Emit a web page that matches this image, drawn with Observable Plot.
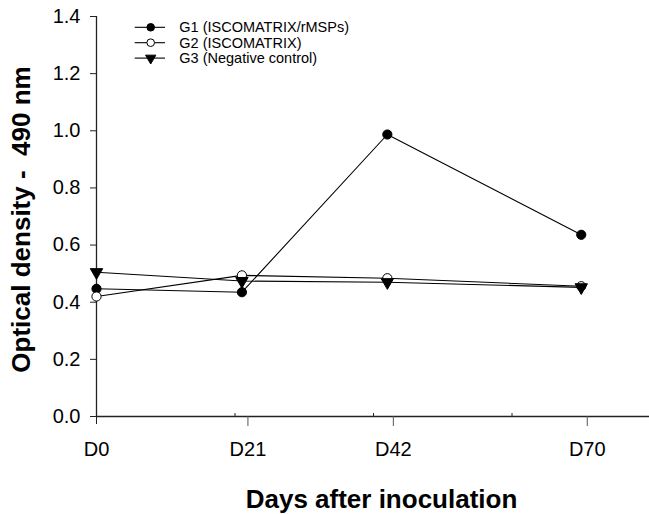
<!DOCTYPE html>
<html>
<head>
<meta charset="utf-8">
<script src="https://cdn.jsdelivr.net/npm/d3@7"></script>
<script src="https://cdn.jsdelivr.net/npm/@observablehq/plot@0.6"></script>
<style>
  body { margin: 0; background: #fff; font-family: Arial, "Liberation Sans", sans-serif; }
  #wrap { position: relative; width: 649px; height: 514px; }
  #legend { position: absolute; left: 130px; top: 12px; }
</style>
</head>
<body>
<div id="wrap"><div id="chart"></div><div id="legend"></div></div>
<script>
// ---- data ----
const days = [0, 21, 42, 70];
const dayLabels = ["D0", "D21", "D42", "D70"];
const minorDays = [20, 40, 60];
const yTicks = [0, 0.2, 0.4, 0.6, 0.8, 1.0, 1.2, 1.4];
const seriesNames = ["G1 (ISCOMATRIX/rMSPs)", "G2 (ISCOMATRIX)", "G3 (Negative control)"];
const g1 = [0.447, 0.435, 0.987, 0.636];
const g2 = [0.420, 0.494, 0.484, 0.456];
const g3 = [0.505, 0.474, 0.470, 0.452];
const xTitle = "Days after inoculation";
const yTitle = "Optical density -\u00a0 490 nm";

// ---- styles per series ----
const seriesStyle = [
  {symbol: "circle", fill: "black", rotate: 0},
  {symbol: "circle", fill: "white", rotate: 0},
  {symbol: "triangle", fill: "black", rotate: 180}
];
const seriesValues = [g1, g2, g3];
const rows = seriesValues.map((vals, i) => vals.map((v, j) => ({series: seriesNames[i], day: days[j], od: v})));

const axisColor = "#222";
const font = "Arial, 'Liberation Sans', sans-serif";

const marks = [
  Plot.ruleY([0], {stroke: axisColor, strokeWidth: 1.3}),
  Plot.ruleX([0], {stroke: axisColor, strokeWidth: 1.3}),
  Plot.axisY({ticks: yTicks, tickFormat: d3.format(".1f"), tickSize: 6, tickPadding: 10, fontSize: 20, label: null, stroke: axisColor}),
  Plot.axisX({ticks: [days[0]], tickSize: 8, tickPadding: 17, tickFormat: d => dayLabels[days.indexOf(d)], fontSize: 20, label: null, stroke: axisColor}),
  Plot.axisX({ticks: days.slice(1), dx: 6, tickSize: 10, tickPadding: 15, tickFormat: d => dayLabels[days.indexOf(d)], fontSize: 20, label: null, stroke: "#555"}),
  Plot.axisX({ticks: minorDays, tickSize: 3, dy: -3, tickFormat: () => "", label: null, stroke: axisColor})
];
rows.forEach(r => marks.push(Plot.line(r, {x: "day", y: "od", stroke: "black", strokeWidth: 1.1})));
rows.forEach((r, i) => marks.push(Plot.dot(r, {
  x: "day", y: "od", r: 4.6,
  symbol: seriesStyle[i].symbol, fill: seriesStyle[i].fill, rotate: seriesStyle[i].rotate,
  stroke: "black", strokeWidth: 1
})));
marks.push(Plot.text([yTitle], {frameAnchor: "left", textAnchor: "middle", lineAnchor: "middle", dx: -75, dy: 3, rotate: -90, fontSize: 26, fontWeight: "bold", fill: "black"}));
marks.push(Plot.text([xTitle], {frameAnchor: "bottom", textAnchor: "middle", lineAnchor: "middle", dx: 8.5, dy: 83, fontSize: 26, fontWeight: "bold", fill: "black"}));

const chart = Plot.plot({
  width: 649, height: 514,
  marginLeft: 96, marginRight: 0, marginTop: 16, marginBottom: 98,
  style: {fontFamily: font, background: "white", color: "black", overflow: "visible"},
  x: {type: "linear", domain: [0, 80], range: [96, 650]},
  y: {domain: [0, 1.4]},
  marks
});
document.getElementById("chart").appendChild(chart);

// ---- legend ----
const lg = d3.select("#legend").append("svg").attr("width", 260).attr("height", 58)
  .style("font-family", font);
seriesNames.forEach((name, i) => {
  const y = 15.3 + i * 15.4;
  const g = lg.append("g");
  g.append("line").attr("x1", 4.7).attr("x2", 35).attr("y1", y).attr("y2", y)
    .attr("stroke", "black").attr("stroke-width", 1.1);
  const rr = 3.8;
  const sym = seriesStyle[i].symbol === "triangle" ? d3.symbolTriangle : d3.symbolCircle;
  g.append("path").attr("d", d3.symbol(sym, Math.PI * rr * rr)())
    .attr("transform", `translate(20.7,${y}) rotate(${seriesStyle[i].rotate})`)
    .attr("fill", seriesStyle[i].fill).attr("stroke", "black").attr("stroke-width", 1);
  g.append("text").attr("x", 49.3).attr("y", y).attr("dy", "0.35em")
    .attr("font-size", 14.5).attr("fill", "black").text(name);
});
</script>
</body>
</html>
